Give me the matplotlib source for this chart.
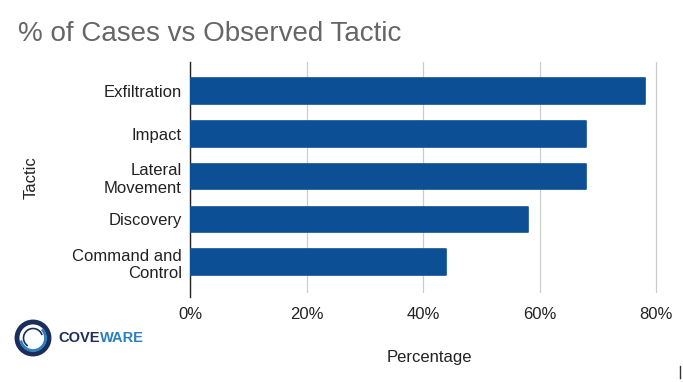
import matplotlib.pyplot as plt
from matplotlib.patches import Arc
from matplotlib.lines import Line2D

plt.rcParams['font.family'] = ['Liberation Sans', 'DejaVu Sans']

# Data
tactics = ["Exfiltration", "Impact", "Lateral\nMovement", "Discovery", "Command and\nControl"]
percentages = [78, 68, 68, 58, 44]
xticks = [0, 20, 40, 60, 80]
xtick_labels = ["0%", "20%", "40%", "60%", "80%"]

bar_color = "#0d4f94"

fig = plt.figure(figsize=(6.83, 3.82), dpi=100)
ax = fig.add_axes([190 / 683, 1 - 293 / 382, (668 - 190) / 683, (293 - 62) / 382])

ypos = list(range(len(tactics)))
ax.barh(ypos, percentages, height=0.6, color=bar_color, edgecolor=bar_color,
        linewidth=1.2, joinstyle="round", zorder=3)

ax.set_ylim(len(tactics) - 0.28, -0.68)
ax.set_xlim(0, 82)
ax.set_yticks(ypos)
ax.set_yticklabels(tactics, fontsize=12, color="#222222")
ax.set_xticks(xticks)
ax.set_xticklabels(xtick_labels, fontsize=12, color="#222222")
ax.tick_params(axis="y", length=0, pad=6)
ax.tick_params(axis="x", length=0, pad=10)

ax.grid(axis="x", color="#cccccc", linewidth=0.9, zorder=0)
for s in ["top", "right", "bottom"]:
    ax.spines[s].set_visible(False)
ax.spines["left"].set_color("#222222")
ax.spines["left"].set_linewidth(1.0)
ax.spines["left"].set_bounds(len(tactics) - 0.28 + 0.1, -0.68)

ax.set_xlabel("Percentage", fontsize=12, color="#222222", labelpad=20)
ax.set_ylabel("Tactic", fontsize=12, color="#222222", labelpad=24)

# Title
fig.text(18 / 683, 1 - 34 / 382, "% of Cases vs Observed Tactic", fontsize=20,
         color="#666666", va="center", ha="left")

# Logo
cx, cy = 33, 338
for r, w, t1, t2, col in [(16, 3.5, 0, 360, "#1b2d5a"), (12.5, 2.0, 200, 60, "#2a7fc1"),
                          (9.5, 1.2, 30, 250, "#1b2d5a")]:
    arc = Arc((cx / 683, 1 - cy / 382), 2 * r / 683, 2 * r / 382, theta1=t1, theta2=t2,
              transform=fig.transFigure, color=col, linewidth=w)
    fig.add_artist(arc)
cove = fig.text(58 / 683, 1 - cy / 382, "COVE", fontsize=10.5, fontweight="bold",
                color="#1b2d5a", va="center", ha="left")
fig.text(1.0, 0.5, "WARE", transform=cove.get_transform(), fontsize=10.5,
         fontweight="bold", color="#2a7fc1", va="center", ha="left")
fig.canvas.draw()
bb = cove.get_window_extent()
fig.texts[-1].set_position(((bb.x1 + 0.5) / fig.bbox.width, 1 - cy / 382))
fig.texts[-1].set_transform(fig.transFigure)

# small stray mark at bottom right
fig.add_artist(Line2D([680 / 683, 680 / 683], [1 - 378 / 382, 1 - 366 / 382],
                      transform=fig.transFigure, color="#333333", linewidth=1))

fig.savefig("out.png", dpi=100)
